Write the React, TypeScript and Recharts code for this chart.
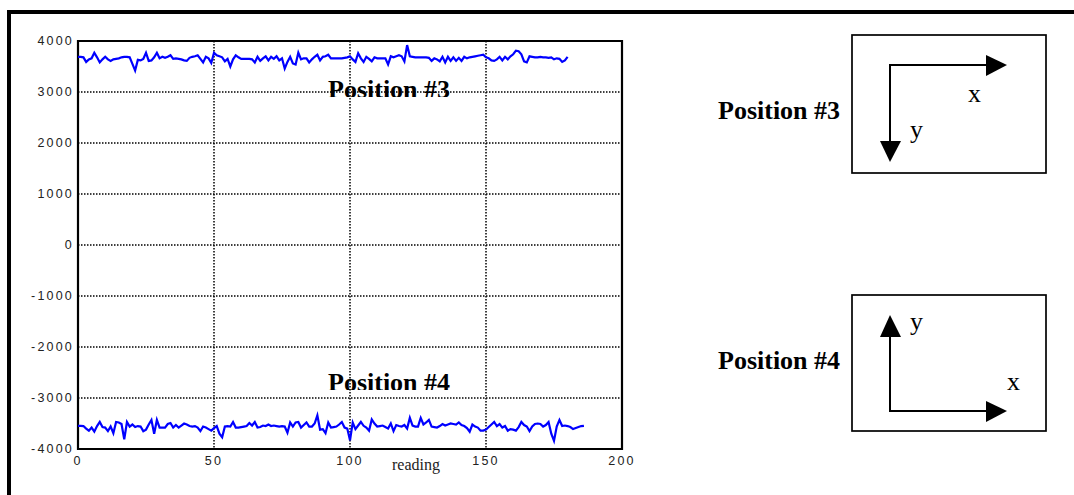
import { LineChart, Line, XAxis, YAxis, CartesianGrid, ReferenceArea } from 'recharts';

// sensor readings, position #3 (top trace)
const position3 = [
  3690, 3690, 3680, 3590, 3640, 3660, 3770, 3680, 3580, 3640,
  3690, 3640, 3610, 3640, 3650, 3660, 3680, 3690, 3690, 3680,
  3550, 3420, 3630, 3620, 3650, 3770, 3610, 3620, 3680, 3770,
  3660, 3690, 3670, 3690, 3720, 3650, 3660, 3650, 3640, 3620,
  3610, 3670, 3690, 3700, 3720, 3650, 3580, 3690, 3660, 3570,
  3770, 3720, 3700, 3680, 3600, 3650, 3500, 3640, 3720, 3680,
  3650, 3650, 3650, 3650, 3640, 3580, 3690, 3610, 3660, 3700,
  3620, 3690, 3650, 3700, 3620, 3660, 3460, 3590, 3690, 3560,
  3540, 3770, 3640, 3660, 3660, 3580, 3640, 3690, 3730, 3620,
  3690, 3700, 3730, 3660, 3660, 3660, 3660, 3660, 3670, 3680,
  3700, 3640, 3590, 3760, 3660, 3590, 3690, 3650, 3600, 3680,
  3660, 3660, 3660, 3660, 3540, 3700, 3680, 3700, 3720, 3700,
  3600, 3920, 3700, 3690, 3680, 3680, 3680, 3680, 3680, 3670,
  3610, 3660, 3640, 3600, 3690, 3580, 3690, 3610, 3680, 3610,
  3670, 3610, 3690, 3660, 3680, 3690, 3700, 3710, 3720, 3730,
  3680, 3660, 3620, 3610, 3640, 3690, 3620, 3690, 3640, 3700,
  3740, 3810, 3800, 3740, 3600, 3580, 3700, 3690, 3680, 3680,
  3690, 3680, 3680, 3670, 3680, 3640, 3660, 3650, 3590, 3620,
  3690,
];

// sensor readings, position #4 (bottom trace)
const position4 = [
  -3545, -3545, -3550, -3600, -3640, -3580, -3660, -3550, -3470, -3570,
  -3580, -3650, -3560, -3690, -3470, -3480, -3510, -3810, -3470, -3560,
  -3520, -3570, -3550, -3560, -3650, -3620, -3520, -3430, -3700, -3430,
  -3580, -3580, -3580, -3510, -3490, -3580, -3530, -3580, -3540, -3500,
  -3520, -3550, -3560, -3550, -3580, -3650, -3560, -3580, -3610, -3640,
  -3590, -3550, -3700, -3770, -3560, -3550, -3560, -3470, -3580, -3580,
  -3570, -3560, -3550, -3490, -3540, -3470, -3580, -3570, -3540, -3550,
  -3520, -3550, -3540, -3550, -3560, -3550, -3560, -3680, -3480, -3560,
  -3480, -3470, -3580, -3530, -3480, -3560, -3560, -3500, -3340, -3620,
  -3610, -3690, -3480, -3580, -3570, -3560, -3520, -3470, -3580, -3600,
  -3830, -3480, -3610, -3540, -3470, -3545, -3580, -3640, -3420, -3500,
  -3560, -3550, -3540, -3570, -3600, -3500, -3650, -3530, -3550, -3560,
  -3530, -3600, -3390, -3540, -3560, -3560, -3390, -3520, -3480, -3430,
  -3560, -3570, -3580, -3550, -3510, -3540, -3520, -3500, -3510, -3520,
  -3480, -3530, -3550, -3590, -3660, -3520, -3560, -3580, -3640, -3640,
  -3620, -3570, -3520, -3470, -3550, -3510, -3580, -3550, -3640, -3610,
  -3620, -3640, -3570, -3470, -3530, -3560, -3650, -3560, -3510, -3500,
  -3510, -3560, -3530, -3470, -3700, -3840, -3560, -3430, -3550, -3540,
  -3550, -3570, -3610, -3590, -3570, -3550, -3545,
];

const xTicks = [0, 50, 100, 150, 200];
const yTicks = [-4000, -3000, -2000, -1000, 0, 1000, 2000, 3000, 4000];

const toRows = (values: number[]) => values.map((value, reading) => ({ reading, value }));

const tickStyle = { fontSize: 12.5, fill: '#222', fontFamily: '"Liberation Sans", Arial, sans-serif', letterSpacing: 2.2 };
const serif = '"Liberation Serif", "Times New Roman", serif';

function Overlay() {
  return (
    <svg width={1074} height={495} style={{ position: 'absolute', left: 0, top: 0, pointerEvents: 'none' }}>
      <defs>
        <clipPath id="clip3"><rect x={0} y={0} width={1074} height={97} /></clipPath>
        <clipPath id="clip4"><rect x={0} y={0} width={1074} height={390} /></clipPath>
      </defs>
      {/* outer frame */}
      <rect x={9} y={12} width={1200} height={1000} fill="none" stroke="#000" strokeWidth={4} />

      {/* labels inside plot */}
      <text x={328} y={98} fontFamily={serif} fontWeight="bold" fontSize={26} clipPath="url(#clip3)">Position #3</text>
      <text x={328} y={391} fontFamily={serif} fontWeight="bold" fontSize={26} clipPath="url(#clip4)">Position #4</text>
      <text x={392} y={470} fontFamily={serif} fontSize={16} fill="#222">reading</text>

      {/* position #3 diagram */}
      <text x={718} y={119} fontFamily={serif} fontWeight="bold" fontSize={26}>Position #3</text>
      <rect x={852} y={35} width={194} height={138} fill="none" stroke="#000" strokeWidth={1.7} />
      <polyline points="988,65 890,65 890,142" fill="none" stroke="#000" strokeWidth={2} />
      <polygon points="986,55 1007,65 986,76" fill="#000" />
      <polygon points="880,141 890,162 901,141" fill="#000" />
      <text x={968} y={102} fontFamily={serif} fontSize={26}>x</text>
      <text x={910} y={138} fontFamily={serif} fontSize={26}>y</text>

      {/* position #4 diagram */}
      <text x={718} y={369} fontFamily={serif} fontWeight="bold" fontSize={26}>Position #4</text>
      <rect x={852} y={295} width={194} height={136} fill="none" stroke="#000" strokeWidth={1.7} />
      <polyline points="890,336 890,411 988,411" fill="none" stroke="#000" strokeWidth={2} />
      <polygon points="880,337 890,315 901,337" fill="#000" />
      <polygon points="986,401 1007,411 986,422" fill="#000" />
      <text x={910} y={330} fontFamily={serif} fontSize={26}>y</text>
      <text x={1007} y={390} fontFamily={serif} fontSize={26}>x</text>
    </svg>
  );
}

export default function App() {
  return (
    <div style={{ position: 'fixed', left: 0, top: 0, width: 1074, height: 495, overflow: 'hidden', background: '#fff' }}>
      <LineChart width={1074} height={495} margin={{ top: 41, right: 452, left: 18, bottom: 16 }}>
        <CartesianGrid stroke="#000" strokeWidth={1.5} strokeDasharray="1.5 1.5" />
        <XAxis
          type="number"
          dataKey="reading"
          domain={[0, 200]}
          ticks={xTicks}
          height={30}
          axisLine={false}
          tickLine={false}
          tickSize={4}
          tickMargin={3}
          tick={tickStyle}
          allowDuplicatedCategory={false}
        />
        <YAxis
          type="number"
          domain={[-4000, 4000]}
          ticks={yTicks}
          width={60}
          axisLine={false}
          tickLine={false}
          tickSize={4}
          tickMargin={0}
          tick={tickStyle}
        />
        <ReferenceArea x1={0} x2={200} y1={-4000} y2={4000} fill="none" fillOpacity={0} stroke="#000" strokeWidth={2.2} />
        <Line data={toRows(position3)} dataKey="value" stroke="#0000ff" strokeWidth={2.2} dot={false} isAnimationActive={false} />
        <Line data={toRows(position4)} dataKey="value" stroke="#0000ff" strokeWidth={2.2} dot={false} isAnimationActive={false} />
      </LineChart>
      <Overlay />
    </div>
  );
}
